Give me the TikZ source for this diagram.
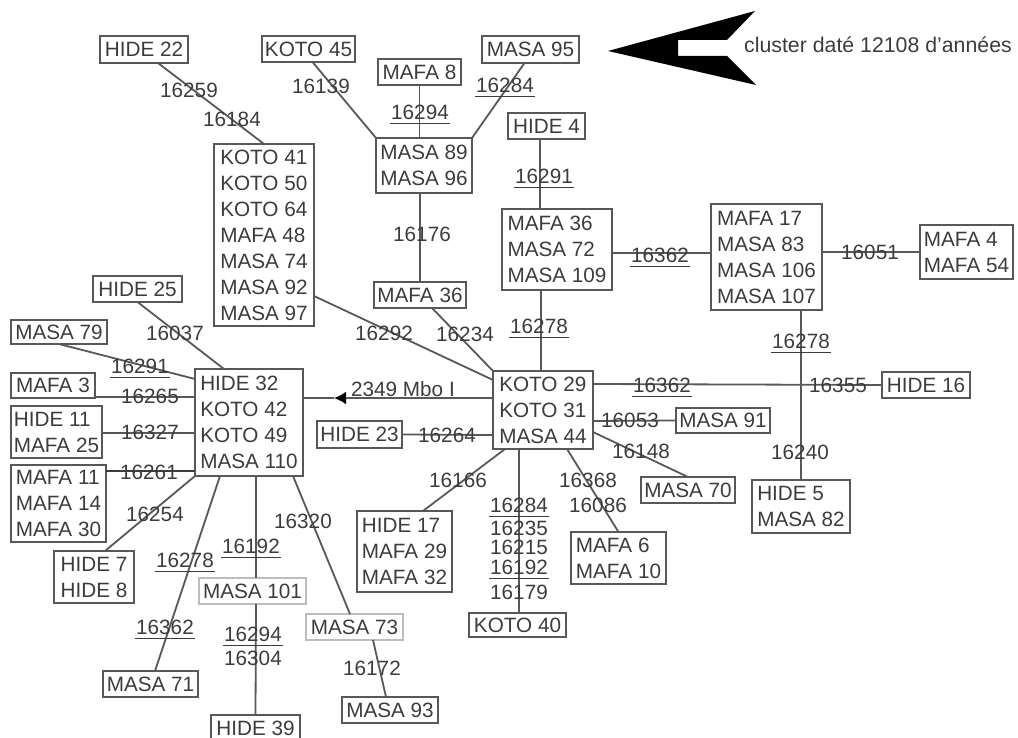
\documentclass[tikz,border=0pt]{standalone}
\usepackage{fontspec}
\setmainfont{Liberation Sans}
\usepackage{xcolor}
\usetikzlibrary{arrows.meta}
\definecolor{inkGray}{HTML}{3C3C3C}
\definecolor{wireGray}{HTML}{585858}
\definecolor{paleGray}{HTML}{BDBDBD}
\tikzset{
  grp/.style={draw=wireGray, line width=1.8pt, anchor=north west, align=left, inner sep=0pt, outer sep=0pt,
    text=inkGray, font=\fontsize{20.7}{26}\selectfont},
  pale/.style={grp, draw=paleGray},
  conn/.style={draw=wireGray, line width=1.8pt},
  numlab/.style={text=inkGray, font=\fontsize{20.7}{24}\selectfont, inner xsep=1pt, inner ysep=4pt},
  numund/.style={numlab, append after command={(\tikzlastnode.south west) edge[draw=inkGray, line width=1.2pt] (\tikzlastnode.south east)}}
}
\begin{document}
\begin{tikzpicture}[x=1pt,y=-1pt]
  \useasboundingbox (0,0) rectangle (1018,738);
  % haplotype boxes
  \node[grp, minimum width=88pt, minimum height=27pt] (hide22) at (100,36) {HIDE 22};
  \node[grp, minimum width=93pt, minimum height=26pt] (koto45) at (262,36) {KOTO 45};
  \node[grp, minimum width=97pt, minimum height=27pt] (masa95) at (482,36) {MASA 95};
  \node[grp, minimum width=83pt, minimum height=26pt] (mafa8) at (378,59) {MAFA 8};
  \node[grp, minimum width=77pt, minimum height=26pt] (hide4) at (508,113) {HIDE 4};
  \node[grp, minimum width=100pt, minimum height=182pt] (koto41) at (214,144) {KOTO 41\\KOTO 50\\KOTO 64\\MAFA 48\\MASA 74\\MASA 92\\MASA 97};
  \node[grp, minimum width=96pt, minimum height=55pt] (masa89) at (376,138) {MASA 89\\MASA 96};
  \node[grp, minimum width=110pt, minimum height=81pt] (mafa36a) at (502,209) {MAFA 36\\MASA 72\\MASA 109};
  \node[grp, minimum width=111pt, minimum height=106pt] (mafa17) at (711,204) {MAFA 17\\MASA 83\\MASA 106\\MASA 107};
  \node[grp, minimum width=93pt, minimum height=54pt] (mafa4) at (920,225) {MAFA 4\\MAFA 54};
  \node[grp, minimum width=92pt, minimum height=26pt] (mafa36b) at (374,282) {MAFA 36};
  \node[grp, minimum width=89pt, minimum height=26pt] (hide25) at (93,276) {HIDE 25};
  \node[grp, minimum width=96pt, minimum height=24pt] (masa79) at (11,320) {MASA 79};
  \node[grp, minimum width=84pt, minimum height=25pt] (mafa3) at (11,373) {MAFA 3};
  \node[grp, minimum width=91pt, minimum height=52pt] (hide11) at (11,406) {HIDE 11\\MAFA 25};
  \node[grp, minimum width=95pt, minimum height=77pt] (mafa11) at (11,465) {MAFA 11\\MAFA 14\\MAFA 30};
  \node[grp, minimum width=108pt, minimum height=107pt] (hide32) at (195,369) {HIDE 32\\KOTO 42\\KOTO 49\\MASA 110};
  \node[grp, minimum width=100pt, minimum height=78pt] (koto29) at (493,371) {KOTO 29\\KOTO 31\\MASA 44};
  \node[grp, minimum width=88pt, minimum height=26pt] (hide16) at (882,372) {HIDE 16};
  \node[grp, minimum width=94pt, minimum height=25pt] (masa91) at (676,408) {MASA 91};
  \node[grp, minimum width=85pt, minimum height=27pt] (hide23) at (317,421) {HIDE 23};
  \node[grp, minimum width=94pt, minimum height=26pt] (masa70) at (641,477) {MASA 70};
  \node[grp, minimum width=98pt, minimum height=53pt] (hide5) at (752,480) {HIDE 5\\MASA 82};
  \node[grp, minimum width=95pt, minimum height=81pt] (hide17) at (357,511) {HIDE 17\\MAFA 29\\MAFA 32};
  \node[grp, minimum width=95pt, minimum height=52pt] (mafa6) at (571,532) {MAFA 6\\MAFA 10};
  \node[grp, minimum width=80pt, minimum height=52pt] (hide7) at (54,551) {HIDE 7\\HIDE 8};
  \node[pale, minimum width=107pt, minimum height=26pt] (masa101) at (199,578) {MASA 101};
  \node[pale, minimum width=97pt, minimum height=26pt] (masa73) at (306,614) {MASA 73};
  \node[grp, minimum width=97pt, minimum height=24pt] (koto40) at (469,613) {KOTO 40};
  \node[grp, minimum width=95pt, minimum height=26pt] (masa71) at (103,671) {MASA 71};
  \node[grp, minimum width=89pt, minimum height=26pt] (hide39) at (211,715) {HIDE 39};
  \node[grp, minimum width=96pt, minimum height=26pt] (masa93) at (342,697) {MASA 93};
  % branches
  \draw[conn] ([xshift=14pt]hide22.south) -- (koto41.north);
  \draw[conn] ([xshift=4pt]koto45.south) -- (masa89.north west);
  \draw[conn] ([xshift=-6pt]masa95.south) -- (masa89.north east);
  \draw[conn] (mafa8.south) -- ([xshift=-4.5pt]masa89.north);
  \draw[conn] ([xshift=-6.5pt]hide4.south) -- ([xshift=-17pt]mafa36a.north);
  \draw[conn] ([xshift=-4pt]masa89.south) -- (mafa36b.north);
  \draw[conn] ([yshift=-3.5pt]mafa36a.east) -- ([yshift=4pt]mafa17.west);
  \draw[conn] ([yshift=5pt]mafa17.east) -- (mafa4.west);
  \draw[conn] ([xshift=-16pt]mafa36a.south) -- ([xshift=-2pt]koto29.north);
  \draw[conn] ([xshift=12pt]mafa36b.south) -- (koto29.north west);
  \draw[conn] ([yshift=-61pt]koto41.east) -- ([yshift=30pt]koto29.west);
  \draw[conn] ([xshift=34.5pt]mafa17.south) -- (hide5.north);
  \draw[conn] (hide25.south) -- ([xshift=-25pt]hide32.north);
  \draw[conn] (masa79.south) -- ([yshift=43.5pt]hide32.west);
  \draw[conn] ([yshift=-11.5pt]mafa3.east) -- ([yshift=25.5pt]hide32.west);
  \draw[conn] ([yshift=-1pt]hide11.east) -- ([yshift=-10.5pt]hide32.west);
  \draw[conn, draw=inkGray] ([yshift=32.5pt]mafa11.east) -- ([yshift=-48.5pt]hide32.west);
  \draw[conn] ([xshift=11pt]hide7.north) -- (hide32.south west);
  \draw[conn] ([xshift=4.5pt]masa71.north) -- ([xshift=-29pt]hide32.south);
  \draw[conn] ([xshift=3.5pt]masa101.north) -- ([xshift=7pt]hide32.south);
  \draw[conn] (hide39.north) -- ([xshift=3.5pt]masa101.south);
  \draw[conn] ([xshift=-4.5pt]masa73.north) -- ([xshift=44pt]hide32.south);
  \draw[conn] ([xshift=18.5pt]masa73.south) -- ([xshift=-4pt]masa93.north);
  \draw[conn] ([yshift=26pt]koto29.east) -- (hide16.west);
  \draw[conn] ([yshift=-11pt]koto29.east) -- (masa91.west);
  \draw[conn] (hide23.east) -- ([yshift=-25pt]koto29.west);
  \draw[conn] ([yshift=-22pt]koto29.east) -- (masa70.north);
  \draw[conn] ([xshift=24pt]koto29.south) -- (mafa6.north);
  \draw[conn] ([xshift=-38pt]koto29.south) -- ([xshift=18.5pt]hide17.north);
  \draw[conn] ([xshift=-24pt]koto29.south) -- ([xshift=1.5pt]koto40.north);
  % dated arrow between the two centres
  \coordinate (midTip) at (334,398);
  \draw[conn, -{Latex[length=12pt,width=13pt,color=black]}] ([yshift=12pt]koto29.west) -- (midTip);
  \draw[conn] (midTip) -- ([yshift=24.5pt]hide32.east);
  \node[numlab] (mbo) at (403,389) {2349 Mbo I};
  % mutation numbers
  \foreach \x/\y/\t [count=\i] in {189/90/16259,232/119/16184,321/86/16139,422/234/16176,
      870/252/16051,465/334/16234,384/333/16292,800/452/16240,175/333/16037,150/396/16265,
      150/432/16327,149/472/16261,155/514/16254,303/521/16320,253/658/16304,372/668/16172,
      838/385/16355,630/420/16053,447/435/16264,641/451/16148,588/480/16368,598/505/16086,
      458/480/16166,519/528/16235,519/547/16215,519/592/16179} {
    \node[numlab] (num\i) at (\x,\y) {\t};
  }
  \foreach \x/\y/\t [count=\i] in {505/85/16284,420/112/16294,544/176/16291,660/255/16362,
      539/326/16278,801/341/16278,140/366/16291,185/560/16278,165/627/16362,251/546/16192,
      253/634/16294,662/385/16362,519/505/16284,519/567/16192} {
    \node[numund] (und\i) at (\x,\y) {\t};
  }
  % age marker
  \fill[black] (608,51) -- (755,11) -- (727,40) -- (678,40) -- (678,56) -- (727,56) -- (756,85) -- cycle;
  \node[numlab, font=\fontsize{21.3}{24}\selectfont] (age) at (878,45) {cluster daté 12108 d'années};
\end{tikzpicture}
\end{document}
